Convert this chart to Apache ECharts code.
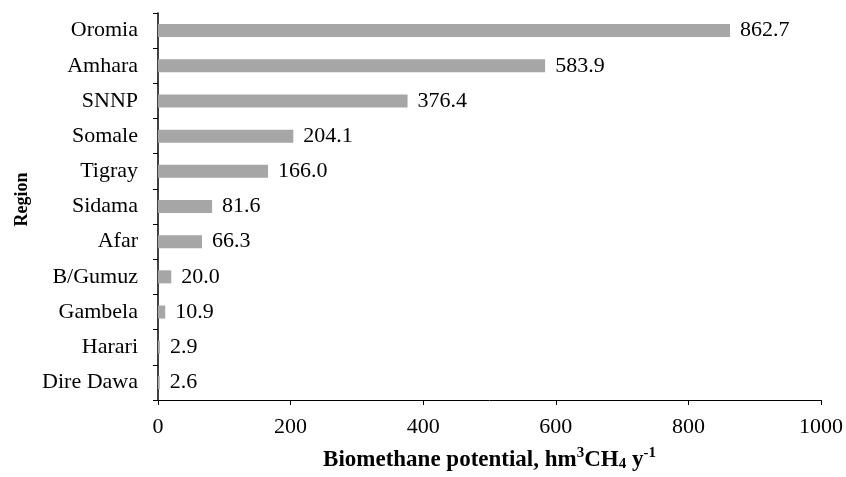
<!DOCTYPE html>
<html>
<head>
<meta charset="utf-8">
<script src="https://cdn.jsdelivr.net/npm/echarts@6/dist/echarts.min.js"></script>
<style>html,body{margin:0;padding:0;background:#fff}#c{width:846px;height:477px}</style>
</head>
<body>
<div id="c"></div>
<script>
const regions = ['Dire Dawa','Harari','Gambela','B/Gumuz','Afar','Sidama','Tigray','Somale','SNNP','Amhara','Oromia'];
const potential = [2.6, 2.9, 10.9, 20.0, 66.3, 81.6, 166.0, 204.1, 376.4, 583.9, 862.7];
const xTicks = [0, 200, 400, 600, 800, 1000];

const FONT = '"Liberation Serif", "Times New Roman", serif';
const FS = 22;
const chart = echarts.init(document.getElementById('c'));
chart.setOption({
  animation: false,
  backgroundColor: '#fff',
  grid: {left: 158, right: 23, top: 13, bottom: 72, containLabel: false},
  xAxis: {
    type: 'value', min: xTicks[0], max: xTicks[xTicks.length-1], interval: 200,
    splitLine: {show: false},
    axisLine: {show: true, lineStyle: {color: '#000', width: 1}},
    axisTick: {show: true, inside: false, length: 5, lineStyle: {color: '#000'}},
    axisLabel: {color: '#000', fontFamily: FONT, fontSize: FS, margin: 16, formatter: v => String(v)},
    name: '{b|Biomethane potential, hm}{sup|3}{b|CH}{sub|4}{b| y}{sup|-1}',
    nameLocation: 'middle', nameGap: 46,
    nameTextStyle: {
      rich: {
        b: {fontFamily: FONT, fontSize: 23, fontWeight: 'bold', color: '#000', verticalAlign: 'bottom', lineHeight: 26},
        sup: {fontFamily: FONT, fontSize: 15, fontWeight: 'bold', color: '#000', verticalAlign: 'top', lineHeight: 26, padding: [0,0,8,0]},
        sub: {fontFamily: FONT, fontSize: 15, fontWeight: 'bold', color: '#000', verticalAlign: 'bottom', lineHeight: 26, padding: [10,0,0,0]}
      }
    }
  },
  yAxis: {
    type: 'category', data: regions,
    axisLine: {show: true, lineStyle: {color: '#000', width: 1.5}},
    axisTick: {show: true, inside: false, length: 5, lineStyle: {color: '#000'}},
    axisLabel: {color: '#000', fontFamily: FONT, fontSize: FS, margin: 20},
    name: 'Region', nameLocation: 'middle', nameGap: 121, nameRotate: 90,
    nameTextStyle: {fontFamily: FONT, fontSize: 18, fontWeight: 'bold', color: '#000', padding: [0, 0, 0, 14]}
  },
  series: [{
    type: 'bar', data: potential, barWidth: 13,
    itemStyle: {color: '#a6a6a6'},
    label: {show: true, position: 'right', distance: 10, color: '#000', fontFamily: FONT, fontSize: FS,
      formatter: p => p.value.toFixed(1)}
  }]
});
</script>
</body>
</html>
